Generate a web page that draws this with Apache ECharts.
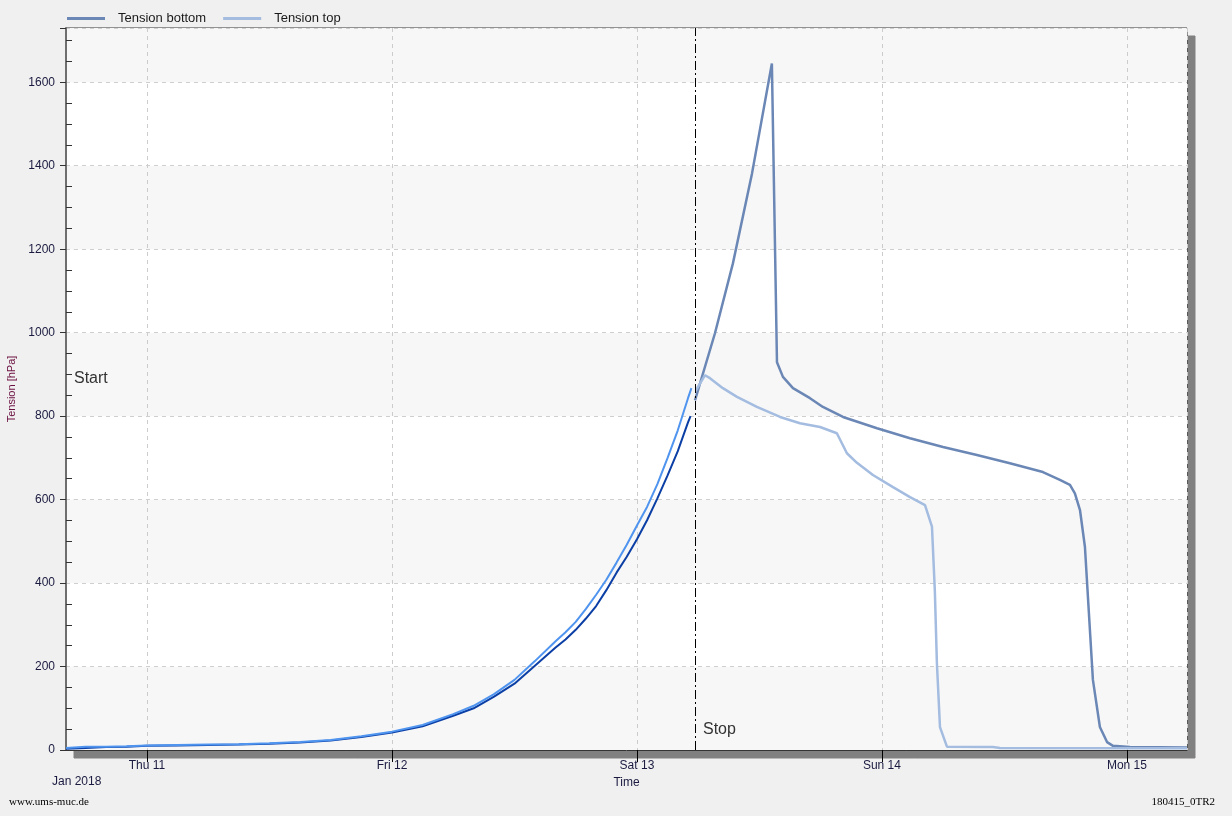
<!DOCTYPE html>
<html>
<head>
<meta charset="utf-8">
<script src="https://cdn.jsdelivr.net/npm/echarts@6/dist/echarts.min.js"></script>
<style>
html,body{margin:0;padding:0;background:#f0f0f0;}
#chart{width:1232px;height:816px;}
</style>
</head>
<body>
<div id="chart"></div>
<script>
// ---- data ----
var runTimes = ['2018-01-10 16:04','2018-01-10 18:00','2018-01-10 20:00','2018-01-10 22:00','2018-01-11 00:00','2018-01-11 03:00','2018-01-11 06:00','2018-01-11 09:00','2018-01-11 12:00','2018-01-11 15:00','2018-01-11 18:00','2018-01-11 21:00','2018-01-12 00:00','2018-01-12 03:00','2018-01-12 06:00','2018-01-12 08:00','2018-01-12 10:00','2018-01-12 12:00','2018-01-12 14:00','2018-01-12 16:00','2018-01-12 17:00','2018-01-12 18:00','2018-01-12 19:00','2018-01-12 20:00','2018-01-12 21:00','2018-01-12 22:00','2018-01-12 23:00','2018-01-13 00:00','2018-01-13 01:00','2018-01-13 02:00','2018-01-13 03:00','2018-01-13 04:00','2018-01-13 05:00','2018-01-13 05:15'];
var runBottom = [3,5,7,8,10,11,12,13,15,18,23,31,42,57,82,100,128,159,202,245,265,288,315,345,383,425,463,505,551,603,658,716,785,800];
var runTopTimes = runTimes.slice(0, -1).concat(['2018-01-13 05:20']);
var runTop = [5,8,8,9,11,12,13,14,16,19,24,33,44,60,86,106,134,168,213,260,282,307,338,372,408,449,492,538,583,637,700,766,843,867];

var afterBottomTimes = ['2018-01-13 05:41','2018-01-13 07:38','2018-01-13 09:24','2018-01-13 11:16','2018-01-13 13:13','2018-01-13 13:43','2018-01-13 14:18','2018-01-13 15:17','2018-01-13 16:57','2018-01-13 18:13','2018-01-13 20:11','2018-01-13 23:31','2018-01-14 02:45','2018-01-14 05:59','2018-01-14 09:18','2018-01-14 12:32','2018-01-14 15:46','2018-01-14 17:26','2018-01-14 18:25','2018-01-14 18:54','2018-01-14 19:24','2018-01-14 19:53','2018-01-14 20:40','2018-01-14 21:21','2018-01-14 22:03','2018-01-14 22:38','2018-01-15 00:18','2018-01-15 05:53'];
var afterBottom = [838,998,1166,1381,1645,929,894,867,843,822,798,771,747,726,707,687,666,647,635,615,575,487,168,55,19,10,7,6];

var afterTopTimes = ['2018-01-13 05:47','2018-01-13 06:40','2018-01-13 07:09','2018-01-13 08:25','2018-01-13 09:48','2018-01-13 11:45','2018-01-13 14:01','2018-01-13 15:58','2018-01-13 17:56','2018-01-13 19:35','2018-01-13 20:34','2018-01-13 21:33','2018-01-13 23:07','2018-01-14 01:05','2018-01-14 02:45','2018-01-14 04:13','2018-01-14 04:54','2018-01-14 05:11','2018-01-14 05:23','2018-01-14 05:41','2018-01-14 06:22','2018-01-14 10:52','2018-01-14 11:34','2018-01-15 05:53'];
var afterTop = [862,898,891,867,846,822,798,783,774,759,711,688,659,630,606,587,535,380,208,55,8,7,5,4];

var startTime = '2018-01-10 16:04';
var endTime = '2018-01-15 05:53';
var stopTime = '2018-01-13 05:41';
var dayNames = ['Sun','Mon','Tue','Wed','Thu','Fri','Sat'];

function zip(t, v){ return t.map(function(x,i){ return [x, v[i]]; }); }

var chart = echarts.init(document.getElementById('chart'));
var font = 'Liberation Sans, Arial, sans-serif';
chart.setOption({
  backgroundColor: '#f0f0f0',
  animation: false,
  textStyle: { fontFamily: font },
  legend: {
    left: 62, top: 7,
    icon: 'rect',
    itemWidth: 38, itemHeight: 3, itemGap: 17,
    data: ['Tension bottom', 'Tension top'],
    textStyle: { fontSize: 13, color: '#1a1a1a', fontFamily: font, padding: [0, 0, 0, 8] }
  },
  grid: {
    left: 66, right: 45, top: 28, bottom: 66,
    outerBoundsMode: 'none', containLabel: false,
    show: true, backgroundColor: '#ffffff',
    borderColor: '#333333', borderWidth: 1,
    shadowColor: '#808080', shadowOffsetX: 8, shadowOffsetY: 8, shadowBlur: 0
  },
  xAxis: {
    type: 'time',
    min: startTime, max: endTime,
    minInterval: 86400000, maxInterval: 86400000,
    name: 'Time', nameLocation: 'middle', nameGap: 27,
    nameTextStyle: { fontSize: 12, color: '#1a1a40' },
    axisLine: { show: true, lineStyle: { color: '#333333', width: 1 } },
    axisTick: { show: true, length: 12, lineStyle: { color: '#000' } },
    axisLabel: {
      fontSize: 12, color: '#1a1a40', margin: 10,
      showMinLabel: false, showMaxLabel: false,
      formatter: function (v) {
        var d = new Date(v);
        return dayNames[d.getDay()] + ' ' + d.getDate();
      }
    },
    splitLine: { show: true, lineStyle: { color: '#cccccc', type: [4, 4] } }
  },
  yAxis: {
    type: 'value', min: 0, max: 1730, interval: 200,
    name: 'Tension [hPa]', nameLocation: 'middle', nameGap: 46,
    nameTextStyle: { fontSize: 11, color: '#6b1040' },
    axisLine: { show: true, lineStyle: { color: '#6e6e6e', width: 2 } },
    axisTick: { show: true, length: 6, lineStyle: { color: '#333' } },
    minorTick: { show: true, splitNumber: 4, length: -6, lineStyle: { color: '#333' } },
    axisLabel: {
      fontSize: 12, color: '#1a1a40', margin: 11, showMaxLabel: false,
      formatter: function (v) { return String(v); }
    },
    splitLine: { show: true, lineStyle: { color: '#cfcfcf', type: [4, 4] } },
    splitArea: { show: true, areaStyle: { color: ['#f7f7f7', '#ffffff'] } }
  },
  series: [
    {
      name: 'Tension bottom', type: 'line', showSymbol: false, symbol: 'none',
      data: zip(afterBottomTimes, afterBottom),
      lineStyle: { color: '#6b87b5', width: 2.5 }, itemStyle: { color: '#6b87b5' },
      markLine: {
        silent: true, symbol: 'none', label: { show: false },
        lineStyle: { color: '#000', width: 1, type: [9, 3, 2, 3] },
        data: [{ xAxis: stopTime }]
      },
      markPoint: {
        silent: true, symbol: 'circle', symbolSize: 0,
        label: { show: true, position: 'right', distance: 8, fontSize: 16, color: '#333', formatter: '{b}' },
        data: [
          { name: 'Stop', coord: [stopTime, 50] },
          { name: 'Start', coord: [startTime, 890] }
        ]
      }
    },
    {
      name: 'Tension top', type: 'line', showSymbol: false, symbol: 'none',
      data: zip(afterTopTimes, afterTop),
      lineStyle: { color: '#a3bce0', width: 2.5 }, itemStyle: { color: '#a3bce0' }
    },
    {
      name: 'Tension bottom run', type: 'line', showSymbol: false, symbol: 'none',
      data: zip(runTimes, runBottom),
      lineStyle: { color: '#0b3fa5', width: 2 }, itemStyle: { color: '#0b3fa5' }
    },
    {
      name: 'Tension top run', type: 'line', showSymbol: false, symbol: 'none',
      data: zip(runTopTimes, runTop),
      lineStyle: { color: '#4f94ef', width: 2 }, itemStyle: { color: '#4f94ef' }
    }
  ],
  graphic: [
    { type: 'text', left: 52, top: 776, style: { text: 'Jan 2018', fontSize: 12, fill: '#1a1a40', fontFamily: font } },
    { type: 'text', left: 9, top: 797, style: { text: 'www.ums-muc.de', fontSize: 11, fill: '#000', fontFamily: 'Liberation Serif, Times New Roman, serif' } },
    { type: 'text', right: 17, top: 797, style: { text: '180415_0TR2', fontSize: 11, fill: '#000', fontFamily: 'Liberation Serif, Times New Roman, serif' } }
  ]
});
</script>
</body>
</html>
